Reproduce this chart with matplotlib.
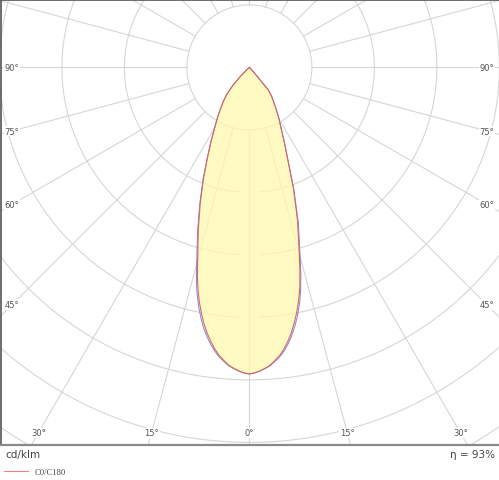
import numpy as np
import matplotlib
matplotlib.use("Agg")
import matplotlib.pyplot as plt
from matplotlib.lines import Line2D

# ---------------- data (cd/klm) ----------------
gamma_deg = [0, 1, 2, 3, 4, 5, 6, 7, 8, 9, 10, 11, 12, 13, 14, 15, 17.5, 20, 22.5,
             25, 27.5, 30, 32.5, 35, 37.5, 40, 42.5, 45, 47.5, 50, 60, 70, 80, 90]
c0 = [490.5, 489, 486, 482, 477.5, 470.5, 463.5, 454, 442.5, 429.5, 414.5, 398, 380,
      359, 334, 308.5, 256, 206, 161, 132, 110, 94.5, 80, 67.5, 58.5, 46.5, 10, 0, 0,
      0, 0, 0, 0, 0]
c180 = [490.5, 489, 486, 482, 477.5, 470.5, 463.5, 454, 443, 431, 417.5, 401.5, 384.5,
        365.5, 344, 320, 272, 229.5, 192, 158.5, 132.5, 111, 95, 80.5, 68.5, 56.5, 40,
        21, 5, 0, 0, 0, 0, 0]
c90 = [490.5, 489, 486, 482.5, 478.5, 472, 465.5, 457, 446.5, 434, 420, 404, 386,
       365, 340, 314, 260, 208, 162, 132.5, 110, 94.5, 80, 67.5, 58.5, 46.5, 10, 0, 0,
       0, 0, 0, 0, 0]
c270 = [490.5, 489, 486, 482.5, 478.5, 472, 465.5, 457, 447, 435.5, 423, 407.5, 391,
        372, 350.5, 326, 276, 232, 193.5, 159, 132.5, 111, 95, 80.5, 68.5, 56.5, 40,
        21, 5, 0, 0, 0, 0, 0]
ring_values = [100, 200, 300, 400, 500, 600, 700]
gap_rings = [200, 300, 400]
spoke_angles = list(range(0, 360, 15))
side_labels = [90, 75, 60, 45]
bottom_labels = [30, 15, 0]
legend_names = ["C0/C180"]
efficiency_text = "η = 93%"
unit_text = "cd/klm"

# ---------------- layout ----------------
W, H = 499, 481
cx, cy = 249.4, 68.4          # polar centre in px (from top-left)
R_px = 470.0
ppu = 0.625                   # px per cd/klm
rmax = R_px / ppu

fig = plt.figure(figsize=(W / 100, H / 100), dpi=100)
fig.patch.set_facecolor("white")

ax = fig.add_axes([(cx - R_px) / W, (H - cy - R_px) / H, 2 * R_px / W, 2 * R_px / H],
                  projection="polar", zorder=0)
ax.set_theta_zero_location("S")
ax.set_theta_direction(1)
ax.set_ylim(0, rmax)
ax.grid(False)
ax.set_xticks([])
ax.set_yticks([])
ax.spines["polar"].set_visible(False)

grid_col = "#d6d6d6"
for rv in ring_values:
    if rv in gap_rings:
        half = 10.5 / (rv * ppu)
        th = np.linspace(half, 2 * np.pi - half, 1000)
    else:
        th = np.linspace(0, 2 * np.pi, 1000)
    ax.plot(th, np.full_like(th, rv), color=grid_col, lw=0.8, zorder=1)
for a in spoke_angles:
    ax.plot([np.radians(a)] * 2, [ring_values[0], rmax], color=grid_col, lw=0.8, zorder=1)

g = np.radians(np.array(gamma_deg))
theta_full = np.concatenate([-g[::-1], g[1:]])
r_red = np.concatenate([np.array(c180)[::-1], np.array(c0)[1:]])
r_blue = np.concatenate([np.array(c270)[::-1], np.array(c90)[1:]])

ax.fill(theta_full, r_red, color="#fff9ae", alpha=0.75, lw=0, zorder=2)
ax.plot(theta_full, r_blue, color="#8080e0", lw=0.7, zorder=3)
ax.plot(theta_full, r_red, color="#d8665e", lw=0.8, zorder=4)

# angle labels
lab_kw = dict(ha="center", va="center", fontsize=6, color="#555555",
              bbox=dict(facecolor="white", edgecolor="none", pad=0.6), zorder=6)
for gdeg in side_labels:
    r_lab = (cx - 12) / np.sin(np.radians(gdeg)) / ppu
    for s in (-1, 1):
        ax.text(s * np.radians(gdeg), r_lab, f"{gdeg}°", **lab_kw)
for gdeg in bottom_labels:
    r_lab = (434 - cy) / np.cos(np.radians(gdeg)) / ppu
    signs = (1,) if gdeg == 0 else (-1, 1)
    for s in signs:
        ax.text(s * np.radians(gdeg), r_lab, f"{gdeg}°", **lab_kw)

# white strip below the plot area
bottom_px = 445.5
axb = fig.add_axes([0, 0, 1, (H - bottom_px) / H], zorder=2)
axb.set_facecolor("white")
axb.set_xticks([])
axb.set_yticks([])
for sp in axb.spines.values():
    sp.set_visible(False)

# frame
axf = fig.add_axes([0.5 / W, (H - bottom_px) / H, 1, (bottom_px - 1.0) / H], zorder=3)
axf.set_facecolor("none")
axf.set_xticks([])
axf.set_yticks([])
axf.spines["right"].set_visible(False)
axf.spines["top"].set_color("#555555")
axf.spines["top"].set_linewidth(1.2)
axf.spines["left"].set_color("#555555")
axf.spines["left"].set_linewidth(1.2)
axf.spines["bottom"].set_color("#8a8a8a")
axf.spines["bottom"].set_linewidth(1.6)

fig.text(5 / W, 1 - 455 / H, unit_text, fontsize=7.5, color="#444444",
         ha="left", va="center", zorder=6)
fig.text(495 / W, 1 - 455 / H, efficiency_text, fontsize=7.5, color="#444444",
         ha="right", va="center", zorder=6)

handle = Line2D([], [], color="#ee8080", lw=0.8)
fig.legend([handle], legend_names, loc="center left",
           bbox_to_anchor=(4 / W, 1 - 473 / H), frameon=False,
           prop=dict(family="Liberation Serif", size=6.2), labelcolor="#444444",
           handlelength=2.8, handletextpad=0.7, borderpad=0, borderaxespad=0)

fig.savefig("out.png", dpi=100, facecolor="white")
